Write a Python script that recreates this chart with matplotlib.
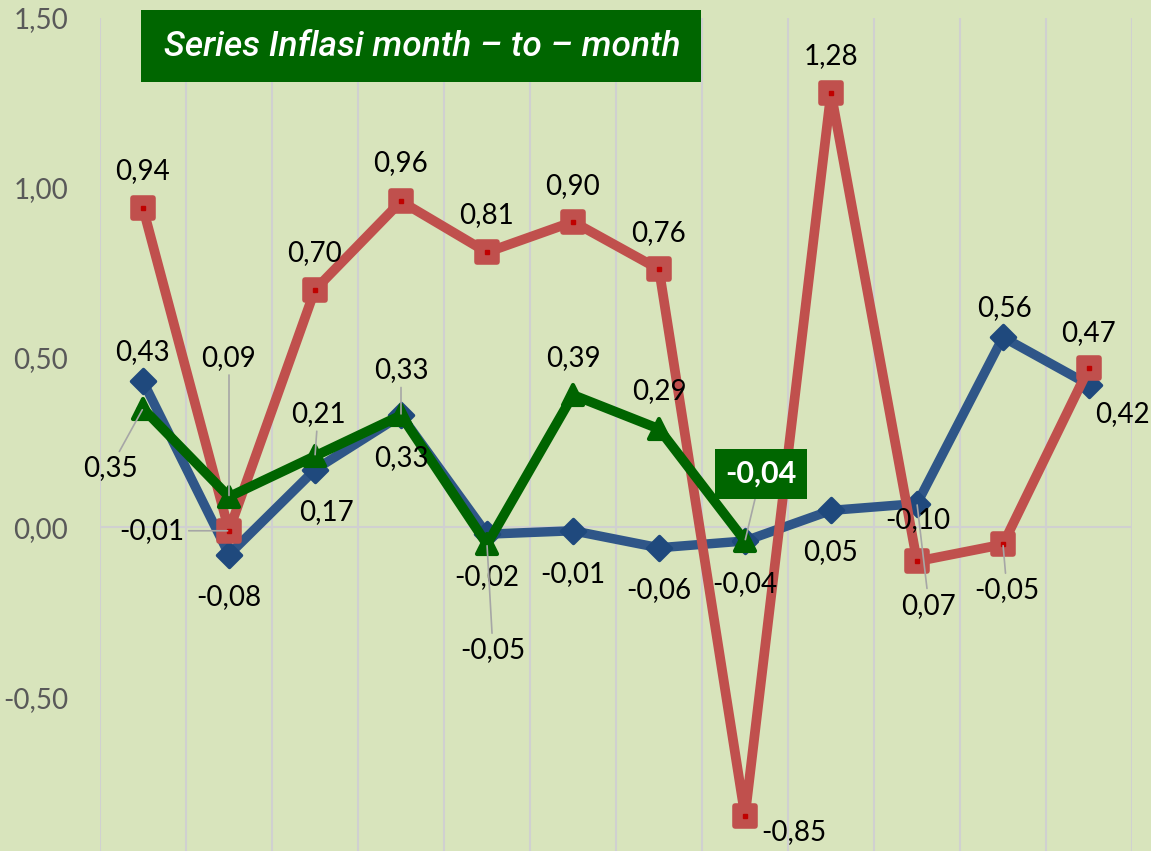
import matplotlib
matplotlib.use("Agg")
from matplotlib import pyplot as plt
from matplotlib.markers import MarkerStyle
from matplotlib.patches import Rectangle
from matplotlib import font_manager

# data: monthly inflation, three series
months = list(range(12))
blue_vals = [0.43, -0.08, 0.17, 0.33, -0.02, -0.01, -0.06, -0.04, 0.05, 0.07, 0.56, 0.42]
red_vals = [0.94, -0.01, 0.70, 0.96, 0.81, 0.90, 0.76, -0.85, 1.28, -0.10, -0.05, 0.47]
green_vals = [0.35, 0.09, 0.21, 0.33, -0.05, 0.39, 0.29, -0.04]
y_ticks = [-0.5, 0.0, 0.5, 1.0, 1.5]
title = 'Series Inflasi month \u2013 to \u2013 month'

# label offsets in pixels (dx, dy), and whether a leader line is drawn
blue_off = [(-1, 29), (0, -43), (12, -42), (0, -43), (0, -43), (0, -43),
            (0, -42), (0, -43), (0, -42), (12, -102), (2, 29), (33, -29)]
blue_lead = [0, 0, 0, 0, 0, 0, 0, 0, 0, 1, 0, 0]
red_off = [(0, 37), (-77, 0), (0, 37), (0, 38), (0, 37), (0, 36),
           (0, 36), (49, -16), (0, 37), (1, 41), (4, -46), (0, 35)]
red_lead = [0, 1, 0, 0, 0, 0, 0, 0, 0, 0, 1, 0]
green_off = [(-33, -60), (0, 139), (3, 42), (0, 45), (6, -106), (0, 37), (0, 38), (16, 67)]
green_lead = [1, 1, 1, 1, 1, 0, 0, 1]

BG = '#d8e4bc'
BLUE_LINE = '#2f5688'
BLUE_MK = '#1f497d'
RED = '#c0504d'
RED_DOT = '#c00000'
GREEN = '#006400'
LEAD = '#a6a6a6'

names = {f.name for f in font_manager.fontManager.ttflist}
label_font = 'Lato' if 'Lato' in names else 'DejaVu Sans'
title_font = 'Liberation Sans Narrow' if 'Liberation Sans Narrow' in names else 'Roboto'
title_size = 29 if title_font == 'Liberation Sans Narrow' else 25.5

fig = plt.figure(figsize=(11.51, 8.51), dpi=100, facecolor=BG)
ax = fig.add_axes([100 / 1151, 0, 1032 / 1151, 1 - 18 / 851])
ax.set_facecolor(BG)

ax.set_xlim(-0.5, 11.5)
ax.set_ylim(-0.953, 1.5)

# vertical gridlines between months
ax.set_xticks([m - 0.5 for m in range(13)])
ax.set_xticklabels([])
ax.grid(axis='x', color='#d0d0d0', lw=1.5, zorder=0)
ax.axhline(0, color='#d0d0d0', lw=1.5, zorder=1)
ax.tick_params(axis='x', length=0)
ax.set_yticks(y_ticks)
ax.set_yticklabels([('%.2f' % v).replace('.', ',') for v in y_ticks],
                   fontsize=20, color='#595959', family=label_font)
ax.tick_params(axis='y', length=0, pad=23)
for s in ax.spines.values():
    s.set_visible(False)

# series
ax.plot(months, blue_vals, color=BLUE_LINE, lw=6.8, zorder=3,
        marker=MarkerStyle('D', joinstyle='round'), ms=12, mew=2.5,
        mfc=BLUE_MK, mec=BLUE_MK, solid_capstyle='round')
ax.plot(months, red_vals, color=RED, lw=7, zorder=4,
        marker=MarkerStyle('s', joinstyle='round'), ms=14, mew=4,
        mfc=RED, mec=RED)
ax.plot(months, red_vals, ls='none', marker='s', ms=3.5, mfc=RED_DOT,
        mec=RED_DOT, zorder=4.5)
ax.plot(months[:len(green_vals)], green_vals, color=GREEN, lw=7, zorder=5,
        marker=MarkerStyle('^', joinstyle='round'), ms=15, mew=3,
        mfc=GREEN, mec=GREEN)


def fmt(v):
    return ('%.2f' % v).replace('.', ',')


def put_labels(vals, offs, leads, skip_last=False):
    for i, v in enumerate(vals):
        if skip_last and i == len(vals) - 1:
            continue
        dx, dy = offs[i]
        arrow = dict(arrowstyle='-', color=LEAD, lw=1.2, shrinkA=1, shrinkB=1) if leads[i] else None
        ax.annotate(fmt(v), (i, v), xytext=(dx, dy), textcoords='offset pixels',
                    ha='center', va='center', fontsize=20, family=label_font,
                    color='black', zorder=7, arrowprops=arrow)


put_labels(blue_vals, blue_off, blue_lead)
put_labels(red_vals, red_off, red_lead)
put_labels(green_vals, green_off, green_lead, skip_last=True)

# highlighted last green value
i = len(green_vals) - 1
ax.annotate(fmt(green_vals[i]), (i, green_vals[i]), xytext=green_off[i],
            textcoords='offset pixels', ha='center', va='center',
            fontsize=22, fontweight='bold', family=label_font, color='white', zorder=8,
            bbox=dict(boxstyle='square,pad=0.35', fc='#006600', ec='none'),
            arrowprops=dict(arrowstyle='-', color=LEAD, lw=1.2, shrinkA=0, shrinkB=1))

# title box
fig.patches.append(Rectangle((141 / 1151, 1 - 82 / 851), 560 / 1151, 72 / 851,
                             transform=fig.transFigure, fc='#006600', ec='none', zorder=10))
fig.text(422 / 1151, 1 - 47 / 851, title, ha='center', va='center', color='white',
         fontsize=title_size, style='italic', fontweight='medium', family=title_font, zorder=11)

plt.savefig('out.png', dpi=100, facecolor=BG)
